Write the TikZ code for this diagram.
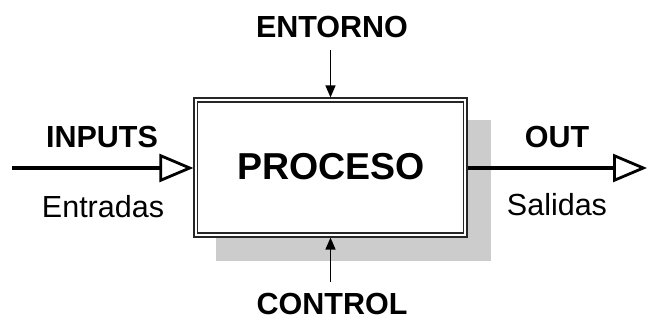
\documentclass[tikz,border=0pt]{standalone}
\usepackage{fontspec}
\setmainfont{Liberation Sans}
\usetikzlibrary{arrows.meta}
\begin{document}
\begin{tikzpicture}[x=1pt,y=-1pt,
  lbl/.style={font=\fontsize{30.5}{32}\selectfont\bfseries, anchor=base, inner sep=0pt},
  sub/.style={font=\fontsize{30.5}{32}\selectfont, anchor=base, inner sep=0pt},
  boxstyle/.style={draw=black!85, line width=1.2pt, fill=white, minimum width=273pt, minimum height=139pt, inner sep=0pt},
  bigarrow/.style={line width=3.2pt, -{Triangle[open, length=34pt, width=28pt, line width=2.8pt]}},
  smallarrow/.style={line width=1.5pt, -{Triangle[length=12pt, width=10pt]}},
  shadowfill/.style={fill=black!20, draw=none}]
\useasboundingbox (0,0) rectangle (649,320);
% process box with shadow
\node[boxstyle] (boxo) at (330.5,167.5) {};
\fill[shadowfill] ([xshift=23pt,yshift=-23pt]boxo.north west) rectangle ([xshift=23pt,yshift=-23pt]boxo.south east);
\node[boxstyle] (box) at (330.5,167.5) {};
\draw[black!85, line width=1.5pt] ([xshift=4pt,yshift=-4.5pt]box.north west) rectangle ([xshift=-4pt,yshift=4.5pt]box.south east);
\node[font=\fontsize{37.5}{40}\selectfont\bfseries, anchor=base, inner sep=0pt] (proc) at (331,180) {PROCESO};
% labels
\node[lbl] (inputs) at (102,148) {INPUTS};
\node[sub] (entradas) at (103,218) {Entradas};
\node[lbl] (out) at (557,148) {OUT};
\node[sub] (salidas) at (557,216) {Salidas};
\node[lbl] (entorno) at (332,38) {ENTORNO};
\node[lbl] (control) at (332,314.5) {CONTROL};
% connectors
\coordinate (inS) at (12,168);
\coordinate (outE) at (647,168);
\coordinate (envS) at (330.5,50);
\coordinate (ctlS) at (330.5,282);
\draw[bigarrow] (inS) -- (inS -| box.west);
\draw[bigarrow] (outE -| box.east) -- (outE);
\draw[smallarrow] (envS) -- (box.north);
\draw[smallarrow] (ctlS) -- (box.south);
\end{tikzpicture}
\end{document}
